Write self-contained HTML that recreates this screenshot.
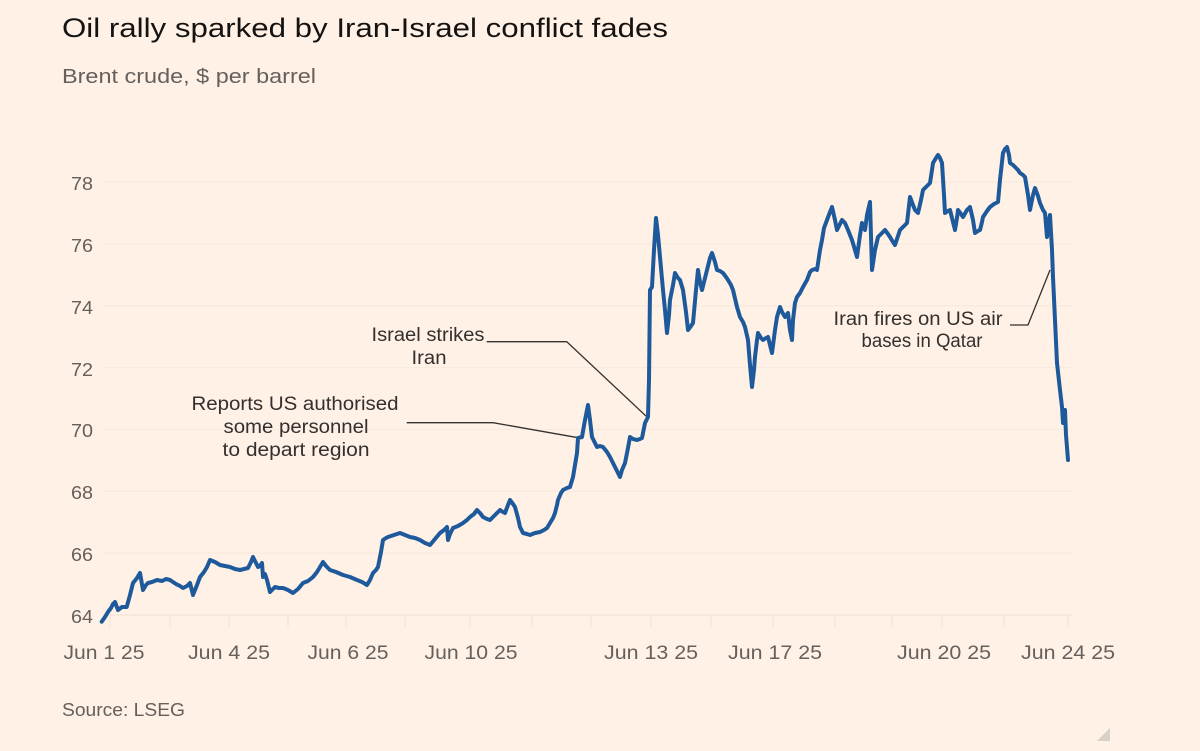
<!DOCTYPE html>
<html>
<head>
<meta charset="utf-8">
<style>
  html, body { margin:0; padding:0; background:#fff1e5; }
  body { width:1200px; height:751px; overflow:hidden; }
  svg { display:block; }
  text { font-family: "Liberation Sans", "DejaVu Sans", sans-serif; }
</style>
</head>
<body>
<svg width="1200" height="751" viewBox="0 0 1200 751" xmlns="http://www.w3.org/2000/svg">
  <rect x="0" y="0" width="1200" height="751" fill="#fff1e5"/>

  <!-- Title & subtitle -->
  <text x="62" y="37" font-size="27" fill="#151312" textLength="606" lengthAdjust="spacingAndGlyphs">Oil rally sparked by Iran-Israel conflict fades</text>
  <text x="62" y="83" font-size="20" fill="#66605c" textLength="254" lengthAdjust="spacingAndGlyphs">Brent crude, $ per barrel</text>

  <!-- Gridlines -->
  <g stroke="#f6e8dc" stroke-width="1">
    <line x1="103" y1="182" x2="1072" y2="182"/>
    <line x1="103" y1="243.8" x2="1072" y2="243.8"/>
    <line x1="103" y1="305.7" x2="1072" y2="305.7"/>
    <line x1="103" y1="367.6" x2="1072" y2="367.6"/>
    <line x1="103" y1="429.4" x2="1072" y2="429.4"/>
    <line x1="103" y1="491.3" x2="1072" y2="491.3"/>
    <line x1="103" y1="553.1" x2="1072" y2="553.1"/>
  </g>
  <!-- Baseline & ticks -->
  <g stroke="#efe1d5" stroke-width="1">
    <line x1="103" y1="615" x2="1072" y2="615"/>
    <line x1="110" y1="615" x2="110" y2="627"/>
    <line x1="170" y1="615" x2="170" y2="627"/>
    <line x1="229" y1="615" x2="229" y2="627"/>
    <line x1="288" y1="615" x2="288" y2="627"/>
    <line x1="346" y1="615" x2="346" y2="627"/>
    <line x1="405" y1="615" x2="405" y2="627"/>
    <line x1="470" y1="615" x2="470" y2="627"/>
    <line x1="532" y1="615" x2="532" y2="627"/>
    <line x1="591" y1="615" x2="591" y2="627"/>
    <line x1="651" y1="615" x2="651" y2="627"/>
    <line x1="711" y1="615" x2="711" y2="627"/>
    <line x1="773" y1="615" x2="773" y2="627"/>
    <line x1="835" y1="615" x2="835" y2="627"/>
    <line x1="892" y1="615" x2="892" y2="627"/>
    <line x1="942" y1="615" x2="942" y2="627"/>
    <line x1="1004" y1="615" x2="1004" y2="627"/>
    <line x1="1068" y1="615" x2="1068" y2="627"/>
  </g>

  <!-- Y labels -->
  <g font-size="18" fill="#66605c">
    <text x="71" y="190" textLength="22" lengthAdjust="spacingAndGlyphs">78</text>
    <text x="71" y="252" textLength="22" lengthAdjust="spacingAndGlyphs">76</text>
    <text x="71" y="314" textLength="22" lengthAdjust="spacingAndGlyphs">74</text>
    <text x="71" y="376" textLength="22" lengthAdjust="spacingAndGlyphs">72</text>
    <text x="71" y="437" textLength="22" lengthAdjust="spacingAndGlyphs">70</text>
    <text x="71" y="499" textLength="22" lengthAdjust="spacingAndGlyphs">68</text>
    <text x="71" y="561" textLength="22" lengthAdjust="spacingAndGlyphs">66</text>
    <text x="71" y="623" textLength="22" lengthAdjust="spacingAndGlyphs">64</text>
  </g>

  <!-- X labels -->
  <g font-size="19" fill="#66605c" text-anchor="middle">
    <text x="104" y="659" textLength="81" lengthAdjust="spacingAndGlyphs">Jun 1 25</text>
    <text x="229" y="659" textLength="82" lengthAdjust="spacingAndGlyphs">Jun 4 25</text>
    <text x="348" y="659" textLength="81" lengthAdjust="spacingAndGlyphs">Jun 6 25</text>
    <text x="471" y="659" textLength="93" lengthAdjust="spacingAndGlyphs">Jun 10 25</text>
    <text x="651" y="659" textLength="94" lengthAdjust="spacingAndGlyphs">Jun 13 25</text>
    <text x="775" y="659" textLength="94" lengthAdjust="spacingAndGlyphs">Jun 17 25</text>
    <text x="944" y="659" textLength="94" lengthAdjust="spacingAndGlyphs">Jun 20 25</text>
    <text x="1068" y="659" textLength="94" lengthAdjust="spacingAndGlyphs">Jun 24 25</text>
  </g>

  <!-- Leader lines -->
  <g fill="none" stroke="#33302e" stroke-width="1.3">
    <polyline points="406.7,422.7 493,422.7 578,437.7"/>
    <polyline points="486.7,341.7 566.7,341.7 646.7,416.7"/>
    <polyline points="1010,325 1028,325 1050,270"/>
  </g>

  <!-- Annotations -->
  <g font-size="19" fill="#33302e" text-anchor="middle">
    <text x="295" y="410" textLength="207" lengthAdjust="spacingAndGlyphs">Reports US authorised</text>
    <text x="296" y="433" textLength="145" lengthAdjust="spacingAndGlyphs">some personnel</text>
    <text x="296" y="456" textLength="147" lengthAdjust="spacingAndGlyphs">to depart region</text>
    <text x="428" y="341" textLength="113" lengthAdjust="spacingAndGlyphs">Israel strikes</text>
    <text x="429" y="364" textLength="35" lengthAdjust="spacingAndGlyphs">Iran</text>
    <text x="918" y="325" textLength="169" lengthAdjust="spacingAndGlyphs">Iran fires on US air</text>
    <text x="922" y="347" textLength="121" lengthAdjust="spacingAndGlyphs">bases in Qatar</text>
  </g>

  <!-- Series -->
  <polyline fill="none" stroke="#1e5a9b" stroke-width="4" stroke-linejoin="round" stroke-linecap="round"
    points="101.7,621.7 105,617 108,612 111,608 113,604 115,602 118,610 122,607 126.7,607 130,595 133,583 137,578 140,573 143,590 146,585 148,583 152,582 157,580 162,581 166,579 170,580 176,584 180,586 183,588 187,586 190,583 193,595 197,585 200,577 204,572 207,567 210,560 215,562 220,565 225,566 230,567 235,569 240,570 244,569 248,568 251,562 253,557 256,563 258,567 260,566 262,563 263,577 265,574 267,580 270,592 273,589 275,587 279,588 283,588 288,590 293,593 298,589 303,583 308,581 313,577 317,572 320,567 323,562 326,566 330,570 336,572 343,575 350,577 357,580 362,582 367,585 370,580 373,573 376,570 378,567 381,552 383,540 386,538 388,537 394,535 400,533 405,535 410,537 415,538 420,540 425,543 430,545 435,539 440,533 444,530 447,527 448,540 450,534 453,528 458,526 463,523 467,520 470,517 474,514 477,510 480,513 483,517 487,519 490,520 495,515 500,510 503,512 505,513 508,505 510,500 513,504 515,507 518,518 520,527 523,533 527,534 530,535 535,533 540,532 544,530 547,528 550,523 553,518 555,513 557,505 558,500 561,493 563,490 567,488 570,487 573,477 575,465 577,453 578,438 582,437 585,420 588,405 590,420 592,437 595,443 597,447 600,446 603,447 607,452 610,457 615,467 620,477 622,470 625,463 628,448 630,437 633,439 637,440 640,439 642,438 645,423 648,417 649,380 650,290 652,287 654,250 656,218 658,235 660,257 663,290 665,310 667,333 669,315 670,300 673,285 675,273 678,278 680,280 683,290 686,312 688,330 691,326 693,323 696,290 698,270 700,282 702,290 705,278 707,270 710,258 712,253 715,262 717,270 720,271 723,273 726,277 728,280 731,285 733,290 737,307 740,317 743,322 745,327 748,340 750,365 752,387 754,370 755,357 757,340 758,333 761,338 763,340 766,338 768,337 770,345 772,353 775,330 777,317 780,307 782,312 785,317 788,313 790,330 792,340 793,320 795,303 797,297 800,293 803,287 807,280 810,272 812,270 815,269 817,270 820,250 822,240 824,228 827,220 830,212 832,207 835,220 837,230 840,224 842,220 845,223 848,230 852,240 855,250 857,257 860,235 862,223 865,230 867,215 870,202 872,270 875,250 878,237 882,233 885,230 888,234 890,237 893,242 895,245 898,236 900,230 904,226 907,223 910,197 913,205 915,210 918,213 921,200 923,190 927,186 930,183 932,170 933,163 936,158 938,155 940,158 942,163 944,195 945,213 948,211 950,210 953,222 955,230 957,218 958,210 961,214 963,217 967,210 970,207 973,220 975,233 978,231 980,230 982,222 983,217 987,211 990,207 994,204 998,202 1000,180 1003,153 1005,149 1007,147 1009,155 1010,163 1013,165 1015,167 1018,170 1020,173 1023,175 1025,177 1028,195 1030,210 1033,195 1035,188 1038,196 1040,203 1043,210 1045,213 1047,237 1048,225 1050,215 1052,250 1053,277 1055,320 1057,363 1060,390 1062,407 1063,423 1064,415 1065,410 1066,435 1068,460"/>

  <!-- Source -->
  <text x="62" y="716" font-size="18" fill="#66605c" textLength="123" lengthAdjust="spacingAndGlyphs">Source: LSEG</text>

  <!-- corner mark -->
  <polygon points="1110,728 1110,741 1097,741" fill="#d9d0c7"/>
</svg>
</body>
</html>
